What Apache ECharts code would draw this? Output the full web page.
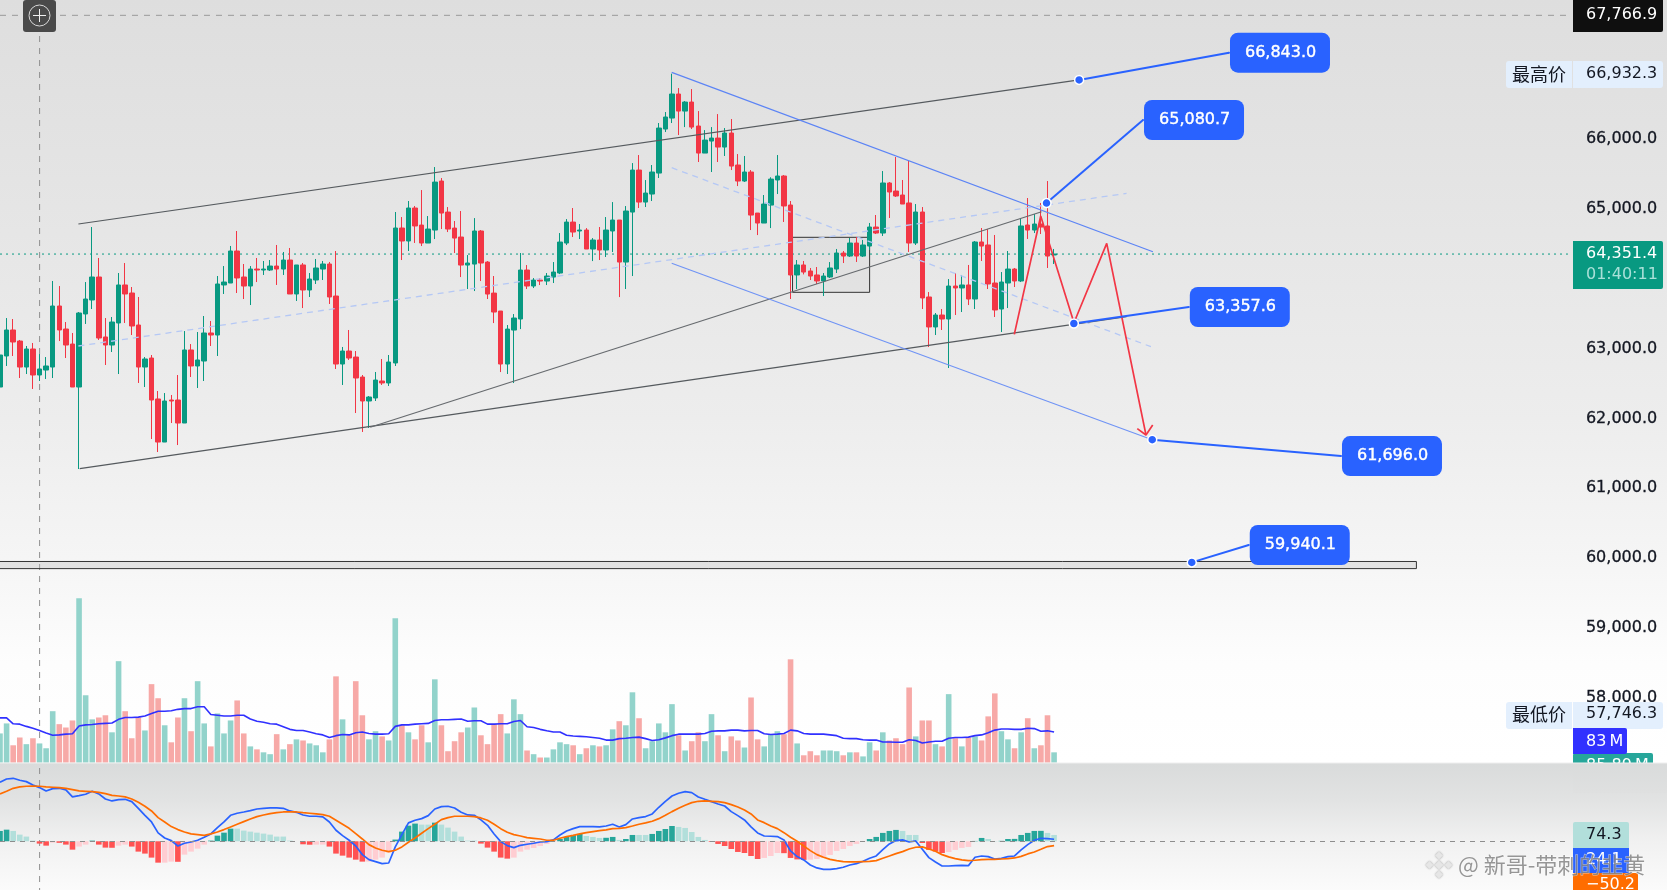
<!DOCTYPE html>
<html><head><meta charset="utf-8">
<style>html,body{margin:0;padding:0;background:#fff;overflow:hidden}#c{width:1667px;height:890px}</style>
<script src="https://cdn.jsdelivr.net/npm/echarts@6/dist/echarts.min.js"></script>
</head><body><div id="c"></div>
<script>
const opens=[62449,62893,63265,63107,62735,62993,62621,62692,62735,63608,63279,63064,62449,63494,63694,64023,63165,63050,63365,63909,63794,63336,62735,62864,62278,61662,62263,62263,61934,62979,62750,62821,63222,63193,63909,63937,64395,64023,63894,64137,64123,64123,64180,64137,64266,63780,64195,63837,63980,64137,64209,63751,62778,62964,62878,62592,62249,62292,62535,62507,62793,64724,64538,65010,64766,64509,64695,65396,64952,64723,64595,64194,64208,64681,64237,63793,63536,62778,63264,63422,64123,63894,63979,63965,64022,64080,64509,64809,64681,64695,64423,64552,64409,64681,64838,64237,64952,65553,65095,65210,65510,66140,66297,66641,66397,66526,66183,65796,65968,66011,65882,66083,65625,65396,65525,64938,64795,65052,65411,65468,65053,64052,64195,64109,64052,63966,64023,64137,64366,64323,64509,64323,64466,64738,64652,65368,65253,65196,65082,64509,64953,63737,63308,63479,63422,63894,63866,63909,63708,64524,64481,63937,63565,63937,64137,63966,64767,64695,64781,64753,64338];
const closes=[62907,63265,63093,62735,62993,62621,62707,62750,63608,63265,63050,62449,63508,63708,64023,63150,63050,63379,63909,63780,63322,62735,62850,62263,61662,62249,62249,61934,62979,62750,62836,63222,63193,63923,63951,64395,64009,63894,64137,64123,64137,64180,64137,64266,63780,64195,63837,63994,64152,64209,63737,62778,62964,62864,62578,62249,62306,62549,62507,62807,64724,64538,65010,64753,64509,64709,65381,64938,64709,64580,64194,64223,64681,64223,63779,63522,62778,63278,63436,64123,63894,63979,63965,64037,64094,64523,64809,64666,64695,64423,64552,64409,64695,64838,64237,64967,65553,65095,65224,65525,66154,66312,66641,66397,66526,66168,65796,65982,66011,65882,66083,65610,65396,65525,64909,64795,65067,65424,65468,65039,64052,64195,64094,64037,63966,64037,64152,64366,64323,64509,64323,64481,64738,64652,65368,65239,65182,65067,64509,64953,63723,63308,63479,63422,63894,63866,63909,63708,64524,64466,63923,63551,63951,64137,63966,64753,64695,64781,64738,64323,64352];
const lows=[62406,62750,62893,62578,62635,62421,62535,62564,62578,63107,62864,62449,61276,63351,63565,63122,62764,62950,62635,63365,63193,62507,62449,61705,61519,61662,61934,61619,61934,62592,62435,62535,63036,62893,63780,63937,63794,63708,63622,63951,64052,64109,63909,64052,63780,63680,63579,63737,63923,63980,63637,62707,62478,62836,62077,61806,61863,62249,62478,62464,62750,64266,64395,64510,64466,64509,64566,64709,64666,64366,64022,63851,63822,63965,63708,63364,62663,62635,62506,63278,63851,63865,63908,63908,63937,64065,64480,64595,64566,64423,64251,64266,64309,64380,63736,63851,64037,65010,65024,65110,65439,66097,66226,66054,66168,66140,65668,65796,65525,65668,65754,65553,65324,65382,64695,64623,64795,64723,65210,64810,63708,63851,64060,63980,63923,63751,64009,64080,64223,64309,64238,64309,64409,64638,64610,64867,65168,65067,64381,64481,63565,63021,63193,63265,62721,63479,63522,63622,63565,64252,63851,63451,63236,63579,63880,63951,64567,64652,64638,64152,64209];
const highs=[63026,63436,63422,63122,63036,63079,62921,62878,63966,63894,63379,63222,63522,63951,64738,64295,63436,63451,64080,64223,63880,63737,62878,62907,62392,62363,62335,62621,63250,63064,63236,63465,63394,64037,64180,64467,64681,64209,64180,64295,64252,64266,64481,64381,64438,64195,64223,64080,64281,64252,64238,64395,63022,63265,62964,62621,62320,62664,62850,62907,64953,64881,65110,65039,65267,64895,65596,65439,65024,64824,64967,64337,64866,64695,64251,64037,63536,63336,63493,64366,64194,64008,64008,64080,64237,64652,64852,65010,64781,64723,64580,64738,64881,65095,64838,65038,65653,65768,65410,65625,66226,66383,66932,66726,66540,66712,66397,66125,66168,66354,66154,66283,65782,65754,65553,64938,65196,65450,65768,65482,65110,64266,64252,64152,64166,64080,64237,64424,64395,64581,64595,64552,64796,64910,65539,65382,65740,65411,65683,65067,65024,63808,63508,63565,63994,64080,64052,64195,64538,64724,64710,64624,64094,64395,64152,64867,65153,64924,65082,65396,64424];
const volumes=[79,106,47,68,50,66,52,39,139,104,95,114,444,182,117,122,128,82,274,139,66,122,87,212,174,101,55,122,174,85,220,106,44,133,79,114,168,79,44,36,28,23,77,36,50,63,60,52,47,28,63,233,117,74,220,128,63,85,71,60,390,101,82,63,101,55,225,101,31,58,82,95,149,74,50,104,131,79,171,131,33,23,14,14,36,55,50,47,23,39,47,44,47,90,112,101,190,120,39,58,106,82,158,74,33,58,82,58,131,74,31,71,60,41,176,63,44,77,85,77,279,52,20,31,20,33,33,31,20,28,28,17,55,33,82,60,66,50,203,71,114,114,50,44,185,66,44,68,71,60,125,187,85,63,39,82,120,39,47,128,28];
const volumeMA=[121,121,105,104,98,93,87,80,74,75,77,78,99,102,103,105,106,107,117,122,122,123,126,133,139,139,140,144,146,146,151,151,130,128,126,126,128,128,118,112,109,105,104,97,90,87,87,83,78,75,68,73,76,75,81,83,79,77,77,78,98,102,102,104,105,106,114,116,116,117,118,112,113,113,104,104,105,105,111,114,97,95,90,86,83,83,74,72,71,70,68,66,61,61,65,66,68,69,65,60,62,67,73,77,77,77,77,79,85,86,86,88,88,86,87,87,78,76,77,79,88,86,79,77,77,77,75,73,66,65,65,62,61,61,56,56,55,55,62,60,53,56,58,58,66,68,68,69,73,75,81,88,91,91,90,90,93,92,85,86,83];
const macdLine=[690,729,737,714,698,659,628,589,616,620,601,519,534,550,585,554,495,472,488,491,464,386,304,226,98,39,8,-55,-23,-8,12,47,86,160,226,304,328,343,359,378,386,390,390,386,355,339,308,293,293,285,226,129,66,12,-55,-156,-215,-238,-261,-254,-66,78,215,246,265,300,378,406,410,390,339,308,304,250,187,86,-4,-51,-74,-47,-35,-23,-8,-4,16,74,121,148,172,172,172,168,179,199,168,195,261,277,289,320,398,468,530,562,581,569,519,491,464,437,413,347,300,250,168,98,62,59,55,16,-113,-179,-218,-277,-312,-328,-328,-320,-304,-277,-261,-234,-199,-172,-98,-31,8,16,-8,4,-94,-191,-242,-289,-289,-285,-281,-285,-187,-172,-179,-207,-199,-179,-172,-101,-39,12,35,31,24];
const signalLine=[554,585,620,636,644,647,644,636,632,628,620,605,589,585,581,573,558,538,530,519,495,456,410,355,277,226,172,137,109,86,78,70,86,109,137,168,199,230,261,289,308,324,335,343,343,343,335,328,320,312,293,246,199,152,90,27,-39,-78,-105,-121,-105,-66,-12,39,94,148,199,254,277,293,293,293,289,273,246,199,148,105,78,62,43,35,27,12,12,35,55,70,86,101,113,125,133,148,152,160,179,199,215,234,265,304,347,386,421,452,468,472,468,464,452,429,402,367,320,250,218,179,148,101,47,0,-55,-109,-156,-187,-211,-226,-238,-242,-242,-238,-234,-226,-199,-172,-144,-121,-90,-70,-66,-90,-117,-156,-183,-203,-218,-226,-222,-215,-211,-211,-207,-203,-195,-176,-148,-125,-94,-62,-50];
const histogram=[121,136,121,78,55,8,-27,-51,-16,-18,-39,-98,-62,-39,8,-39,-74,-76,-51,-39,-62,-121,-144,-191,-250,-250,-238,-240,-156,-121,-86,-39,8,66,101,148,148,125,113,101,90,78,55,55,8,0,-35,-40,-39,-39,-62,-144,-168,-191,-215,-238,-238,-215,-191,-133,20,113,183,207,195,195,218,195,160,113,55,8,8,-27,-74,-121,-191,-203,-191,-121,-98,-78,-55,-31,-8,27,51,74,86,62,51,39,41,51,16,27,74,74,74,86,121,144,179,168,156,109,51,16,-8,-31,-55,-90,-125,-137,-172,-207,-195,-172,-137,-139,-195,-212,-218,-215,-207,-195,-160,-113,-90,-55,-31,-4,27,51,98,121,133,121,74,74,-20,-101,-120,-137,-125,-101,-78,-66,4,39,27,3,5,27,28,74,98,121,122,98,74];

const channelUpper=[[11.9,64781],[163.8,66843]];
const channelLower=[[12.1,61282],[171,63455]];
const risingSupport=[[56.2,61873],[158.1,64957]];
const fallTop=[[101.96,66951],[175,64385]];
const fallBottom=[[101.96,64219],[174.9,61696]];
const fallMiddle=[[101.96,65587],[174.7,63026]];
const riseMiddle=[[11.9,63036],[171,65220]];
const forecastPath=[[153.96,63203],[157.97,64896],[163.02,63369],[167.99,64505],[173.95,61763]];
const forecastArrow=[[172.63,61853],[173.95,61763],[174.97,61906]];
const consolidationBox=[[120.3,64591],[132,63804]];
const supportBand=[[0,59953],[215,59851]];
const callouts=[
 {text:'66,843.0',anchor:[163.8,66843],tag:[186.55,67232]},
 {text:'65,080.7',anchor:[158.85,65080.7],tag:[173.5,66269]},
 {text:'63,357.6',anchor:[163,63357.6],tag:[180.45,63594]},
 {text:'61,696.0',anchor:[174.9,61696],tag:[203.55,61461]},
 {text:'59,940.1',anchor:[180.9,59940.1],tag:[189.55,60189]}
];
const lastPrice=64351.4, crossPrice=67766.9;
const axisTicks=[58000,59000,60000,61000,62000,63000,64000,65000,66000];
const totalSlots=239;
const categories=Array.from({length:totalSlots},(_,i)=>String(i));

const UP='#089981',DOWN='#f23645',FONT='"DejaVu Sans",sans-serif',CJK='"Noto Sans CJK SC",sans-serif';
const S=6.588,GL=0,GW=S*(totalSlots-1),LAST=totalSlots-1;
const fmt=v=>v.toLocaleString('en-US',{minimumFractionDigits:1,maximumFractionDigits:1});
const candle=opens.map((o,i)=>[o,closes[i],lows[i],highs[i]]);
const isUp=i=>closes[i]>=opens[i];
const histColor=(h,i)=>{const p=i?histogram[i-1]:0;return h>=0?(h>p?'#26a69a':'#b2dfdb'):(h<p?'#ff5252':'#ffcdd2');};

function over(data,color,width,type,z){return {type:'line',xAxisIndex:1,yAxisIndex:0,data,showSymbol:false,silent:true,z:z||4,animation:false,lineStyle:{color,width,type:type||'solid'},itemStyle:{color}};}
const bandOutline=[supportBand[0],[supportBand[1][0],supportBand[0][1]],supportBand[1],[supportBand[0][0],supportBand[1][1]]];
const series=[
 {type:'candlestick',xAxisIndex:0,yAxisIndex:0,data:candle,barWidth:5,z:3,itemStyle:{color:UP,color0:DOWN,borderColor:UP,borderColor0:DOWN,borderWidth:1}},
 {type:'bar',xAxisIndex:2,yAxisIndex:1,data:volumes.map((v,i)=>({value:v,itemStyle:{color:isUp(i)?'#92d3cb':'#f7a9a7'}})),barWidth:5.6,z:2},
 {type:'line',xAxisIndex:2,yAxisIndex:1,data:volumeMA,showSymbol:false,z:3,lineStyle:{color:'#3030ff',width:1.6}},
 {type:'bar',xAxisIndex:3,yAxisIndex:2,data:histogram.map((v,i)=>({value:v,itemStyle:{color:histColor(v,i)}})),barWidth:5.6,z:2,
  markLine:{silent:true,symbol:'none',label:{show:false},lineStyle:{color:'#8d8d8d',type:[5,5],width:1},data:[{yAxis:0}]}},
 {type:'line',xAxisIndex:3,yAxisIndex:2,data:macdLine,showSymbol:false,z:3,lineStyle:{color:'#2962ff',width:1.7}},
 {type:'line',xAxisIndex:3,yAxisIndex:2,data:signalLine,showSymbol:false,z:4,lineStyle:{color:'#ff6d00',width:1.7}},
 over([[0,lastPrice],[LAST,lastPrice]],UP,1,[2,4],2),
 over([[0,crossPrice],[LAST,crossPrice]],'#9a9a9a',1,[6,6],2),
 over(channelUpper,'#555a5e',1.2),
 over(channelLower,'#555a5e',1.2),
 over(risingSupport,'#666a6e',1.2),
 over(fallTop,'#5c84f5',1.2),
 over(fallBottom,'#6f93f5',1.1),
 over(fallMiddle,'#b5c8f5',1.3,[6,5]),
 over(riseMiddle,'#b5c8f5',1.3,[6,5]),
 over(forecastPath,'#f23645',1.7,'solid',5),
 over(forecastArrow,'#f23645',1.7,'solid',5),
 over(bandOutline,'#333',1,'solid',2),
 Object.assign(over([],'#000',0),{markArea:{silent:true,itemStyle:{color:'rgba(120,120,120,0.05)',borderColor:'#333',borderWidth:1},data:[[{coord:consolidationBox[0]},{coord:consolidationBox[1]}]]},z:2}),
 Object.assign(over([],'#000',0),{markArea:{silent:true,itemStyle:{color:'rgba(190,190,190,0.35)',borderWidth:0},data:[[{coord:supportBand[0]},{coord:supportBand[1]}]]},z:2})
];
callouts.forEach(c=>{series.push({type:'line',xAxisIndex:1,yAxisIndex:0,silent:true,z:6,showSymbol:true,lineStyle:{color:'#2962ff',width:2},
 data:[{value:c.anchor,symbol:'circle',symbolSize:9,itemStyle:{color:'#2962ff',borderColor:'#fff',borderWidth:1.5}},
  {value:c.tag,symbol:'circle',symbolSize:2,itemStyle:{color:'#2962ff',opacity:1},label:{show:true,position:'right',distance:0,formatter:c.text,color:'#fff',textBorderColor:'#fff',textBorderWidth:0.4,fontFamily:FONT,fontSize:16,backgroundColor:'#2962ff',borderRadius:8,padding:[10,0,10,15],width:85,lineHeight:20,align:'left',verticalAlign:'middle'}}]});});

function rect(x,y,w,h,fill,z,r){return {type:'rect',silent:true,z,shape:{x,y,width:w,height:h,r:r||0},style:{fill}};}
function text(x,y,t,fill,size,z,extra){return {type:'text',silent:true,z,x,y,style:Object.assign({text:t,fill,font:size+'px '+FONT,textAlign:'left',textVerticalAlign:'middle'},extra||{})};}
function grad(stops){return new echarts.graphic.LinearGradient(0,0,0,1,stops.map(s=>({offset:s[0],color:s[1]})));}
function diamond(cx,cy,r,fill,z){return {type:'polygon',silent:true,z,shape:{points:[[cx,cy-r],[cx+r,cy],[cx,cy+r],[cx-r,cy]]},style:{fill,shadowColor:'rgba(90,90,90,.6)',shadowBlur:2}};}
const AX=1573,LX=1586;
const graphics=[
 rect(0,0,1667,763,grad([[0,'#dedede'],[0.2,'#e3e3e3'],[0.55,'#ededed'],[0.73,'#f5f5f5'],[0.87,'#fdfdfd'],[1,'#ffffff']]),-10),
 rect(0,763,1667,127,grad([[0,'#d9dbdb'],[0.3,'#e2e3e3'],[0.62,'#f1f1f1'],[1,'#fbfbfb']]),-10),
 {type:'line',silent:true,z:1,shape:{x1:39.6,y1:0,x2:39.6,y2:890},style:{stroke:'#8f8f8f',lineWidth:1,lineDash:[6,6]}},
 rect(23,0,33,32,'#4a4a4a',40,3),
 {type:'circle',silent:true,z:41,shape:{cx:39.5,cy:15.5,r:10.5},style:{fill:'none',stroke:'#d8d8d8',lineWidth:1}},
 {type:'line',silent:true,z:41,shape:{x1:33,y1:15.5,x2:46,y2:15.5},style:{stroke:'#f0f0f0',lineWidth:1}},
 {type:'line',silent:true,z:41,shape:{x1:39.5,y1:9,x2:39.5,y2:22},style:{stroke:'#f0f0f0',lineWidth:1}},
 rect(AX,0,90,32,'#0f0f0f',50,[0,0,2,0]),text(LX,15,'67,766.9','#fff',16,51),
 rect(1506,61,66,27,'#e3effd',50,[3,0,0,3]),rect(AX,61,90,27,'#e3effd',50,[0,3,3,0]),
 text(1539,74,'最高价','#131722',18,51,{font:'18px '+CJK,textAlign:'center'}),text(LX,74,'66,932.3','#131722',16,51),
 rect(AX,241,90,48,UP,50,[0,2,2,0]),text(LX,254,fmt(lastPrice),'#fff',16,51),text(LX,275,'01:40:11','#a9e0d8',16,51),
 rect(1506,702,66,27,'#e3effd',50,[3,0,0,3]),rect(AX,702,90,27,'#e3effd',50,[0,3,3,0]),
 text(1539,714,'最低价','#131722',18,51,{font:'18px '+CJK,textAlign:'center'}),text(LX,714,'57,746.3','#131722',16,51),
 rect(AX,753,80,14,'#26a69a',50,[2,2,0,0]),text(LX,766,'85.89\u2009M','#fff',16,51),
 rect(AX,728,54,26,'#3131ff',52,[0,2,2,0]),text(LX,741.5,'83\u2009M','#fff',16,53),
 rect(AX,763,94,30,grad([[0,'#d9dbdb'],[1,'#dfe0e0']]),54),
 rect(0,762.6,1667,0.8,'#f0f0f0',54),
 rect(AX,822,56,26,'#b2dfdb',55,[2,2,0,0]),text(LX,835,'74.3','#131722',16,56),
 rect(AX,848,56,25,'#2962ff',55),text(LX,860,'24.1','#fff',16,56),
 rect(AX,873,65,17,'#ff6d00',55,[2,2,0,0]),text(LX,885,'−50.2','#fff',16,56),
 diamond(1439,865,4.5,'#e6e6e6',60),diamond(1439,855.5,4,'#e6e6e6',60),diamond(1439,874.5,4,'#e6e6e6',60),diamond(1429.5,865,4,'#e6e6e6',60),diamond(1448.5,865,4,'#e6e6e6',60),
 text(1458,865,'@ 新哥-带刺的韭黄','rgba(125,125,125,.8)',22,60,{font:'22px '+CJK,stroke:'rgba(255,255,255,.55)',lineWidth:1})
];
const commonX={type:'category',data:categories,boundaryGap:false,axisLine:{show:false},axisTick:{show:false},axisLabel:{show:false},splitLine:{show:false}};
const chart=echarts.init(document.getElementById('c'),null,{renderer:'canvas'});
chart.setOption({
 animation:false,backgroundColor:'transparent',tooltip:{show:false},
 grid:[
  {left:GL,width:GW,top:0,height:767.9},
  {left:GL,width:GW,top:570,height:192.7},
  {left:GL,width:GW,top:763,height:127}
 ],
 xAxis:[
  Object.assign({},commonX,{gridIndex:0}),
  {type:'value',gridIndex:0,min:0,max:LAST,show:false},
  Object.assign({},commonX,{gridIndex:1}),
  Object.assign({},commonX,{gridIndex:2})
 ],
 yAxis:[
  {type:'value',gridIndex:0,min:57000,max:67986,interval:1000,position:'right',scale:true,axisLine:{show:false},axisTick:{show:false},splitLine:{show:false},
   axisLabel:{margin:18,color:'#131722',textBorderColor:'#131722',textBorderWidth:0.3,fontFamily:FONT,fontSize:16,padding:[0,0,3,0],formatter:v=>axisTicks.includes(v)?fmt(v):''}},
  {type:'value',gridIndex:1,min:0,max:520,show:false},
  {type:'value',gridIndex:2,min:-570,max:916,show:false}
 ],
 series,graphic:{elements:graphics}
});
</script></body></html>
